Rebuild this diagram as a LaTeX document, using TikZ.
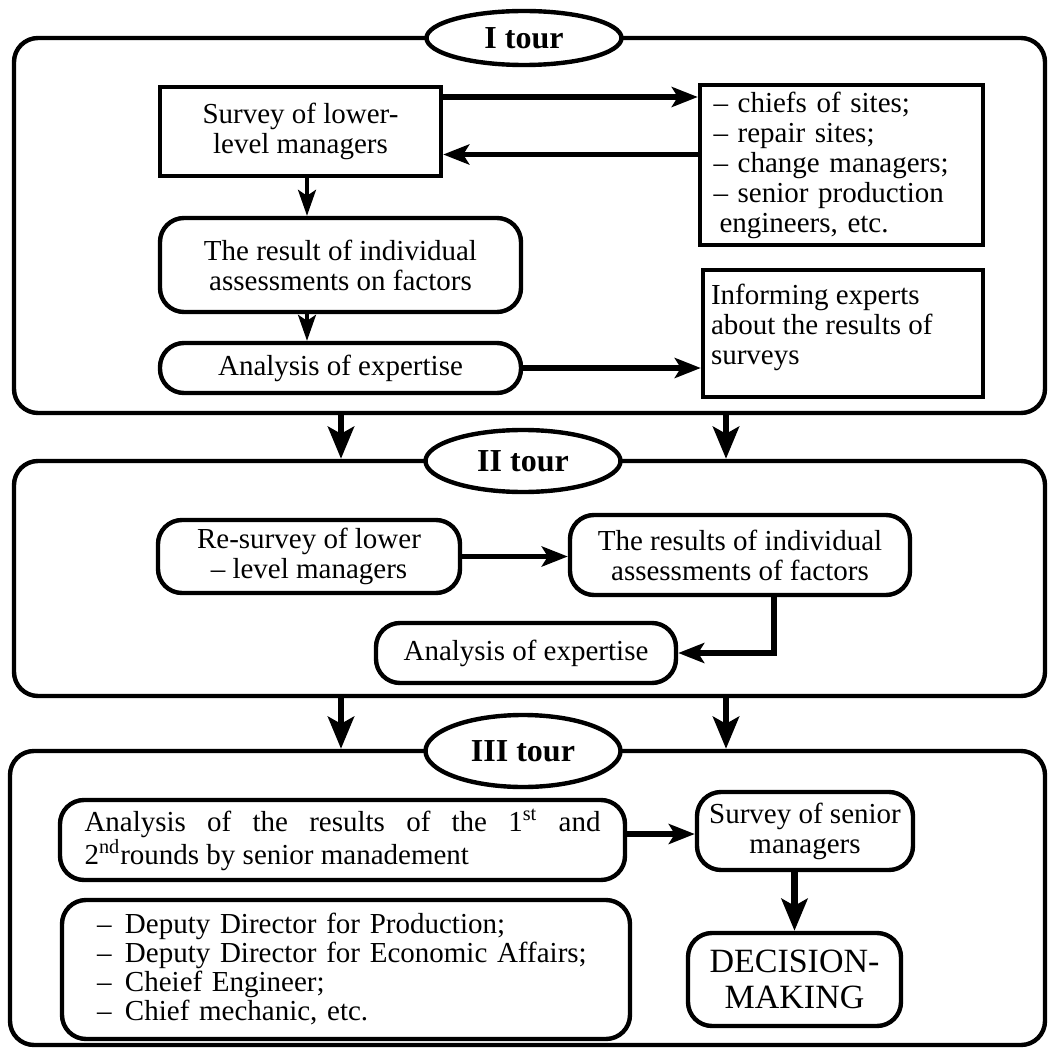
\documentclass[tikz,border=0pt]{standalone}
\usepackage{fontspec}
\setmainfont{Liberation Serif}
\usetikzlibrary{arrows.meta, shapes.geometric, calc}

\begin{document}
\begin{tikzpicture}[x=0.5pt, y=-0.5pt,
    every node/.style={font=\fontsize{14.5}{15}\selectfont},
    frame/.style={draw, line width=2.2pt, rounded corners=12pt},
    tour/.style={ellipse, draw, line width=2.2pt, fill=white, inner sep=0pt,
                 minimum width=97.5pt, font=\bfseries\fontsize{16}{16}\selectfont},
    sqbox/.style={draw, line width=2.2pt, align=center},
    rbox/.style={draw, line width=2.2pt, rounded corners=12pt, align=center},
    arr/.style={-{Stealth[length=13pt, width=10pt, inset=3pt]}, line width=2.8pt},
    thinarr/.style={-{Stealth[length=13pt, width=9pt, inset=3pt]}, line width=1.6pt},
    bigarr/.style={-{Stealth[length=16pt, width=13pt, inset=3.5pt]}, line width=3.4pt},
  ]
  \useasboundingbox (0,0) rectangle (1049,1048);

  % I tour
  \node[frame, minimum width=515.5pt, minimum height=187.5pt] (b1) at (529.5,225.5) {};
  \node[tour, minimum height=27pt] (t1) at (524,38) {I tour};
  \node[sqbox, minimum width=140.5pt, minimum height=44.5pt] (survey) at (300.5,131.5)
        {Survey of lower-\\level managers};
  \node[sqbox, align=left, text width=128pt, inner xsep=6.75pt, minimum height=80pt]
        (sites) at (841.5,165)
        {– chiefs of sites;\\– repair sites;\\– change managers;\\– senior production\\
         \hspace*{3pt}engineers, etc.};
  \node[rbox, minimum width=180.5pt, minimum height=47pt] (result) at (340.5,265)
        {The result of individual\\assessments on factors};
  \node[rbox, minimum width=180.5pt, minimum height=25pt] (analysis) at (340.5,368)
        {Analysis of expertise};
  \node[sqbox, align=left, inner sep=4pt] (inform) at (843,333.5)
        {\parbox[c][55.5pt][t]{132pt}{\vspace*{3pt}Informing experts\\about the results of\\surveys}};

  \draw[arr] ([yshift=17.25pt]survey.east) -- ([yshift=17.25pt]survey.east -| sites.west);
  \draw[arr] ([yshift=-11.5pt]survey.east -| sites.west) -- ([yshift=-11.5pt]survey.east);
  \draw[thinarr] ([xshift=3.25pt]survey.south) -- ([xshift=3.25pt]survey.south |- result.north);
  \draw[thinarr] ([xshift=3.25pt]survey.south |- result.south)
        -- ([xshift=3.25pt]survey.south |- analysis.north);
  \draw[arr] (analysis.east) -- (analysis.east -| inform.west);

  % II tour
  \node[frame, minimum width=515.5pt, minimum height=117.5pt] (b2) at (529.5,578.5) {};
  \node[tour, minimum height=31pt] (t2) at (523,461) {II tour};
  \draw[bigarr] ([xshift=-94.25pt]b1.south) -- ([xshift=-94.25pt]b1.south |- b2.north);
  \draw[bigarr] ([xshift=98.25pt]b1.south) -- ([xshift=98.25pt]b1.south |- b2.north);

  \node[rbox, minimum width=151pt, minimum height=36.5pt] (resurvey) at (309,556.5)
        {Re-survey of lower\\– level managers};
  \node[rbox, minimum width=170pt, minimum height=40pt] (results) at (740,555)
        {The results of individual\\assessments of factors};
  \node[rbox, minimum width=150pt, minimum height=30pt] (analysisii) at (526,653)
        {Analysis of expertise};
  \draw[arr] (resurvey.east) -- (resurvey.east -| results.west);
  \draw[arr] ([xshift=17pt]results.south) |- (analysisii.east);

  % III tour
  \node[frame, minimum width=517.5pt, minimum height=147pt] (b3) at (527.5,898) {};
  \node[tour, minimum height=36pt] (t3) at (523,751) {III tour};
  \draw[bigarr] ([xshift=-94.25pt]b2.south) -- ([xshift=-94.25pt]b2.south |- b3.north);
  \draw[bigarr] ([xshift=98.25pt]b2.south) -- ([xshift=98.25pt]b2.south |- b3.north);

  \node[rbox, minimum height=40pt, text width=258pt, inner xsep=12.25pt, align=justify]
        (analysisiii) at (342.5,840)
        {Analysis of the results of the 1\textsuperscript{st} and\linebreak
         2\textsuperscript{nd}rounds by senior manadement};
  \node[rbox, minimum width=108pt, minimum height=39pt] (senior) at (805,831)
        {Survey of senior\\managers};
  \node[rbox, minimum width=106.5pt, minimum height=46.5pt,
        font=\fontsize{17}{18}\selectfont] (decision) at (794.5,979.5) {DECISION-\\MAKING};
  \node[rbox, align=left, text width=249pt, inner xsep=17.5pt, minimum height=69.5pt,
        font=\fontsize{14.5}{14.5}\selectfont] (deputies) at (346,969.5)
        {\makebox[14pt][l]{–}Deputy Director for Production;\\
         \makebox[14pt][l]{–}Deputy Director for Economic Affairs;\\
         \makebox[14pt][l]{–}Cheief Engineer;\\
         \makebox[14pt][l]{–}Chief mechanic, etc.};
  \draw[arr] ([yshift=3pt]analysisiii.east) -- ([yshift=3pt]analysisiii.east -| senior.west);
  \draw[bigarr] (decision.north |- senior.south) -- (decision.north);
\end{tikzpicture}
\end{document}
